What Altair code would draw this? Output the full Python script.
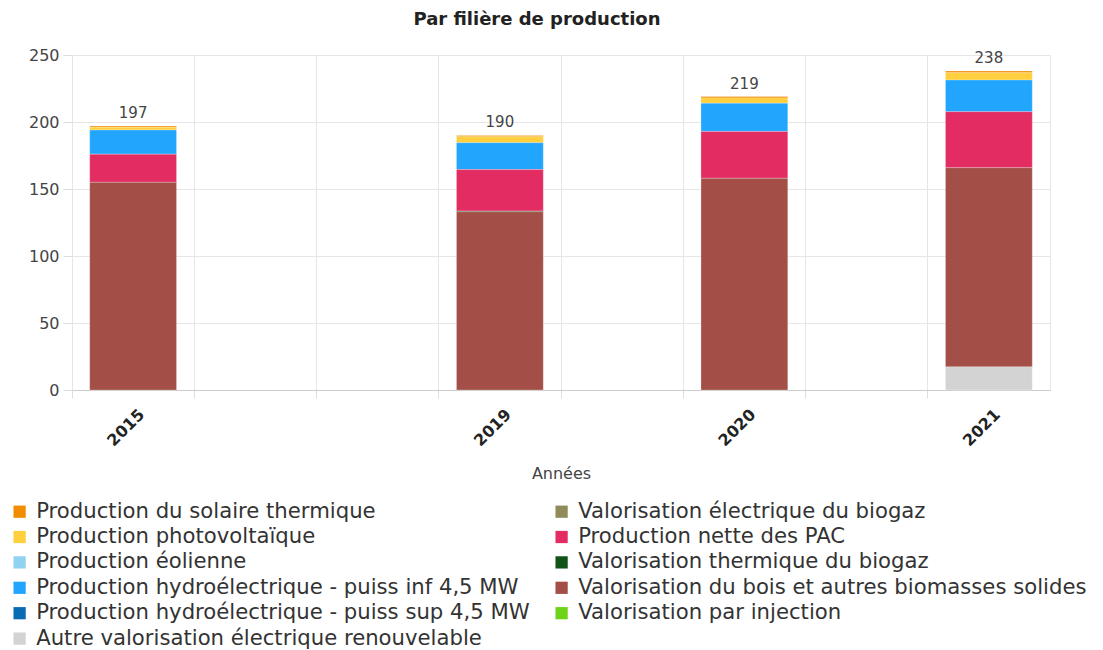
import altair as alt
import pandas as pd

# ---- data ----
years = ["2015", "2019", "2020", "2021"]
# axis slots (empty slots reproduce the spacing of the reference x axis)
slots = ["2015", " 1", " 2", "2019", " 3", "2020", " 4", "2021"]

series = [
    "Production du solaire thermique",
    "Production photovoltaïque",
    "Production éolienne",
    "Production hydroélectrique - puiss inf 4,5 MW",
    "Production hydroélectrique - puiss sup 4,5 MW",
    "Autre valorisation électrique renouvelable",
    "Valorisation électrique du biogaz",
    "Production nette des PAC",
    "Valorisation thermique du biogaz",
    "Valorisation du bois et autres biomasses solides",
    "Valorisation par injection",
]
colors = [
    "#f28c00", "#ffcf3d", "#8fd3f0", "#22a6fd", "#0a6bb5", "#d3d3d3",
    "#918b5c", "#e32d62", "#0f5317", "#a34f47", "#6dd41a",
]
# stacking position from the bottom (0 = bottom)
stack_rank = [10, 9, 8, 7, 6, 0, 4, 5, 3, 1, 2]

solaire_th = [1.0, 1.0, 1.0, 1.2]
photovolt = [2.0, 4.5, 4.0, 5.5]
eolien = [0, 0, 0, 0]
hydro_inf = [18.0, 20.0, 21.0, 23.6]
hydro_sup = [0, 0, 0, 0]
autre_elec = [0, 0, 0, 17.4]
biogaz_elec = [0, 0, 0, 0]
pac = [21.0, 31.0, 35.0, 41.8]
biogaz_therm = [0, 0.5, 0, 0]
bois = [155.0, 133.0, 158.0, 148.5]
injection = [0, 0, 0, 0]

values = [solaire_th, photovolt, eolien, hydro_inf, hydro_sup, autre_elec,
          biogaz_elec, pac, biogaz_therm, bois, injection]

rows = []
for s, vals, r in zip(series, values, stack_rank):
    for y, v in zip(years, vals):
        rows.append({"annee": y, "filiere": s, "valeur": v, "rank": r})
df = pd.DataFrame(rows)

FONT = "DejaVu Sans"

x_scale = alt.Scale(domain=slots, paddingInner=0, paddingOuter=0)

x_enc = alt.X(
    "annee:N",
    scale=x_scale,
    axis=alt.Axis(
        title="Années",
        bandPosition=0,
        labelOffset=3,
        labelAngle=315,
        labelFontWeight="bold",
        labelFontSize=16,
        labelColor="#222222",
        labelExpr="indexof(datum.label, ' ') == 0 ? '' : datum.label",
        labelPadding=8,
        tickSize=8,
        tickColor="#dddddd",
        domainColor="#cccccc",
        gridColor="#e6e6e6",
        grid=True,
        titleFontSize=16,
        titleFontWeight="normal",
        titleColor="#444444",
        titlePadding=17,
    ),
)

bars = alt.Chart(df).transform_filter("datum.valeur > 0").mark_bar(
    stroke="#ffffff", strokeWidth=0.4, strokeOpacity=0.6,
    width=alt.RelativeBandSize(0.71),
).encode(
    x=x_enc,
    y=alt.Y(
        "sum(valeur):Q",
        stack="zero",
        scale=alt.Scale(domain=[0, 250], nice=False),
        axis=alt.Axis(
            title=None,
            values=[0, 50, 100, 150, 200, 250],
            labelFontSize=16,
            labelColor="#444444",
            tickSize=9,
            tickColor="#dddddd",
            domain=False,
            gridColor="#e6e6e6",
            labelPadding=4,
        ),
    ),
    color=alt.Color(
        "filiere:N",
        scale=alt.Scale(domain=series, range=colors),
        legend=alt.Legend(
            title=None,
            orient="none",
            legendX=-63,
            legendY=446,
            columns=2,
            symbolType="square",
            symbolSize=150,
            symbolStrokeWidth=0,
            labelFontSize=21.2,
            labelColor="#333333",
            labelLimit=700,
            rowPadding=3.4,
            columnPadding=21,
            labelOffset=6,
        ),
    ),
    order=alt.Order("rank:Q", sort="ascending"),
)

totals = alt.Chart(df).mark_text(
    dy=-13, fontSize=15, color="#444444", font=FONT
).encode(
    x=alt.X("annee:N", scale=x_scale),
    y=alt.Y("sum(valeur):Q"),
    text=alt.Text("sum(valeur):Q", format=".0f"),
)

chart = (
    alt.layer(bars, totals)
    .properties(
        width=978,
        height=335,
        autosize=alt.AutoSizeParams(type="none"),
        padding={"left": 64, "top": 47, "right": 45, "bottom": 259},
        title=alt.TitleParams(
            "Par filière de production",
            fontSize=18,
            fontWeight="bold",
            color="#222222",
            font=FONT,
            offset=18,
            dx=-24,
        ),
    )
    .configure(font=FONT)
    .configure_view(stroke="#e6e6e6")
)

chart.save("out.html", embed_options={"renderer": "svg", "actions": False})
